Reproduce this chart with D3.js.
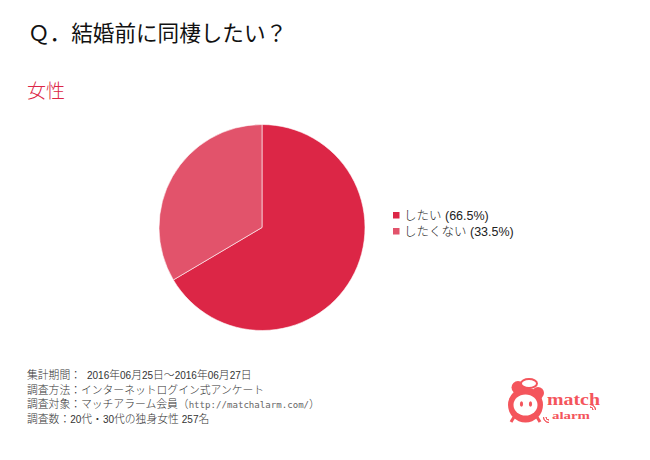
<!DOCTYPE html>
<html><head><meta charset="utf-8">
<script src="https://cdnjs.cloudflare.com/ajax/libs/d3/7.8.5/d3.min.js"></script>
<style>html,body{margin:0;padding:0;background:#fff}svg{display:block}
text{font-family:"Liberation Sans","Noto Sans CJK JP",sans-serif;font-weight:300}</style></head>
<body><svg id="c" width="650" height="460"></svg>
<script>
const categories=["したい","したくない"];
const values=[66.5,33.5];
const colors=["#DC2646","#E2536B"];
const title="Ｑ．結婚前に同棲したい？";
const subtitle="女性";
const notes=["集計期間：  2016年06月25日～2016年06月27日","調査方法：インターネットログイン式アンケート","調査対象：マッチアラーム会員（http://matchalarm.com/）","調査数：20代・30代の独身女性 257名"];
const svg=d3.select("#c");
svg.append("rect").attr("width",650).attr("height",460).attr("fill","#fff");
svg.append("text").attr("x",28).attr("y",41).attr("font-size",21.6).attr("fill","#111").style("font-weight",400).text(title);
svg.append("text").attr("x",27).attr("y",98).attr("font-size",19).attr("fill","#DC2646").text(subtitle);
const pie=d3.pie().sort(null).value(d=>d)(values);
const arc=d3.arc().innerRadius(0).outerRadius(103);
svg.append("g").attr("transform","translate(262,227.5)").selectAll("path").data(pie).join("path")
 .attr("d",arc).attr("fill",(d,i)=>colors[i]).attr("stroke","#fff").attr("stroke-width",0.6);
const legend=svg.append("g").selectAll("g").data(categories).join("g")
 .attr("transform",(d,i)=>`translate(393,${212+i*16})`);
legend.append("rect").attr("width",6.5).attr("height",6.5).attr("fill",(d,i)=>colors[i]);
legend.append("text").attr("x",11).attr("y",8).attr("font-size",12.5).attr("fill","#222")
 .text((d,i)=>`${d} (${d3.format(".1f")(values[i])}%)`);
const noteText=svg.append("g").selectAll("text").data(notes).join("text")
 .attr("x",27).attr("y",(d,i)=>379+i*14.7).attr("font-size",10.8).attr("fill","#333").style("white-space","pre");
const isUrl=d=>d.startsWith("http");
const isNum=d=>/^\d+$/.test(d);
noteText.selectAll("tspan").data(d=>d.split(/(http:\/\/\S+\/|\d+)/).filter(s=>s)).join("tspan")
 .attr("font-size",d=>isUrl(d)?9.1:isNum(d)?10:10.8)
 .attr("fill",d=>isUrl(d)?"#666":null)
 .style("font-family",d=>isUrl(d)?"'DejaVu Sans Mono',monospace":null)
 .text(d=>d);
// logo
const red="#F4555C";
const logo=svg.append("g").attr("fill",red);
logo.append("circle").attr("cx",525.5).attr("cy",405).attr("r",17.5);
logo.append("circle").attr("cx",518).attr("cy",387.5).attr("r",6.5);
logo.append("circle").attr("cx",538).attr("cy",393).attr("r",6);
logo.append("ellipse").attr("cx",529).attr("cy",383.5).attr("rx",8).attr("ry",4.5).attr("fill","#fff").attr("stroke",red).attr("stroke-width",2);
logo.append("line").attr("x1",514).attr("y1",417).attr("x2",511).attr("y2",422).attr("stroke",red).attr("stroke-width",3);
logo.append("line").attr("x1",537).attr("y1",417).attr("x2",540).attr("y2",422).attr("stroke",red).attr("stroke-width",3);
logo.append("ellipse").attr("cx",525.5).attr("cy",405).attr("rx",12).attr("ry",10.5).attr("fill","#fff");
logo.append("ellipse").attr("cx",521.5).attr("cy",404).attr("rx",1.6).attr("ry",2.8);
logo.append("ellipse").attr("cx",530.5).attr("cy",404).attr("rx",1.6).attr("ry",2.8);
logo.append("text").attr("x",547).attr("y",405).attr("font-size",17).attr("textLength",53).attr("lengthAdjust","spacingAndGlyphs").style("font-family","'Liberation Serif',serif").style("font-weight",700).text("match");
logo.append("text").attr("x",552).attr("y",418.5).attr("font-size",11).attr("textLength",38).attr("lengthAdjust","spacingAndGlyphs").style("font-family","'Liberation Serif',serif").style("font-weight",700).text("alarm");
const waves=svg.append("g").attr("fill","none").attr("stroke",red).attr("stroke-width",1);
[[549,417,3],[549,417,5.5],[590,410,3],[590,410,5.5]].forEach(([x,y,r],i)=>{
  const a=i<2?[Math.PI,Math.PI*1.5]:[0,Math.PI/2];
  waves.append("path").attr("transform",`translate(${x},${y})`)
   .attr("d",d3.arc().innerRadius(r).outerRadius(r).startAngle(a[0]).endAngle(a[1])());
});
</script></body></html>
